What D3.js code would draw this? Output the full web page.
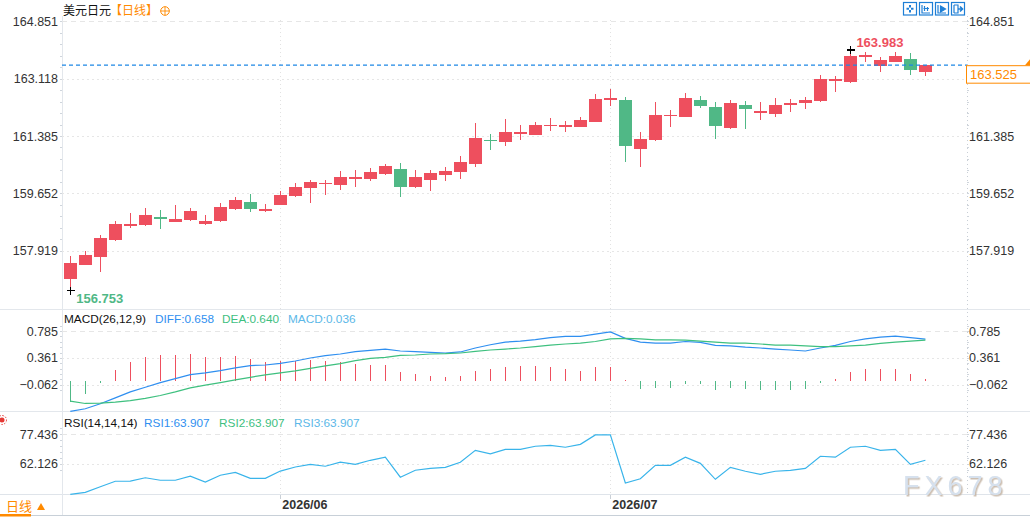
<!DOCTYPE html>
<html lang="zh">
<head>
<meta charset="UTF-8">
<title>美元日元 日线</title>
<script src="https://d3js.org/d3.v7.min.js"></script>
<style>
  body { margin: 0; background: #fff; }
  svg { display: block; font-family: "Liberation Sans", Arial, sans-serif; }
  .cn { font-family: "Noto Sans CJK SC", sans-serif; }
  .tick text { font-size: 12.5px; fill: #333; }
</style>
</head>
<body>
<svg width="1030" height="517"></svg>
<script>
// trading days shown on the chart
const days = [
  '2026/05/12','2026/05/13','2026/05/14','2026/05/15','2026/05/18','2026/05/19','2026/05/20','2026/05/21','2026/05/22',
  '2026/05/25','2026/05/26','2026/05/27','2026/05/28','2026/05/29',
  '2026/06/01','2026/06/02','2026/06/03','2026/06/04','2026/06/05','2026/06/08','2026/06/09','2026/06/10','2026/06/11',
  '2026/06/12','2026/06/15','2026/06/16','2026/06/17','2026/06/18','2026/06/19','2026/06/22','2026/06/23','2026/06/24',
  '2026/06/25','2026/06/26','2026/06/29','2026/06/30',
  '2026/07/01','2026/07/02','2026/07/03','2026/07/06','2026/07/07','2026/07/08','2026/07/09','2026/07/10','2026/07/13',
  '2026/07/14','2026/07/15','2026/07/16','2026/07/17','2026/07/20','2026/07/21','2026/07/22','2026/07/23','2026/07/24',
  '2026/07/27','2026/07/28','2026/07/29','2026/07/30'
];

const open = [157.05,157.50,157.74,158.25,158.66,158.71,158.95,158.80,158.84,158.72,158.81,159.19,159.39,159.13,
  159.31,159.56,159.80,159.95,159.89,160.10,160.10,160.24,160.40,159.83,160.07,160.22,160.31,160.55,161.27,161.19,
  161.46,161.42,161.70,161.67,161.67,161.81,162.46,162.48,160.98,161.25,162.00,161.97,162.48,162.27,161.64,162.33,
  162.11,162.06,162.33,162.37,162.43,163.06,163.03,163.78,163.51,163.62,163.71,163.33];
const high = [157.75,157.90,158.40,158.83,159.07,159.22,159.16,159.31,159.22,159.01,159.37,159.55,159.64,159.34,
  159.73,159.97,160.06,160.06,160.33,160.37,160.43,160.55,160.58,160.37,160.37,160.46,160.79,161.78,161.45,161.90,
  161.72,161.81,161.93,161.84,161.96,162.66,162.81,162.57,161.51,162.42,162.18,162.69,162.60,162.42,162.48,162.45,
  162.42,162.54,162.51,162.57,163.23,163.21,163.983,163.92,163.77,163.92,163.89,163.53];
const low = [156.753,157.48,157.27,158.22,158.59,158.66,158.56,158.78,158.83,158.71,158.80,159.16,159.10,159.08,
  159.29,159.55,159.37,159.59,159.74,159.83,160.04,160.21,159.53,159.82,159.71,160.04,160.09,160.46,160.97,161.07,
  161.27,161.41,161.54,161.51,161.66,161.80,162.30,160.61,160.46,161.22,161.67,161.96,162.24,161.28,161.61,161.61,
  161.87,161.97,162.12,162.21,162.42,162.70,163.00,163.62,163.32,163.61,163.24,163.21];
const close = [157.55,157.80,158.31,158.74,158.74,159.01,158.87,158.89,159.13,158.83,159.25,159.46,159.19,159.19,
  159.61,159.85,160.00,159.97,160.15,160.15,160.30,160.49,159.85,160.15,160.27,160.33,160.61,161.33,161.22,161.51,
  161.51,161.72,161.73,161.72,161.87,162.51,162.54,161.07,161.30,162.03,162.03,162.54,162.30,161.70,162.38,162.21,
  162.14,162.33,162.37,162.46,163.11,163.11,163.80,163.83,163.68,163.80,163.39,163.525];

const diff = [-0.481,-0.439,-0.361,-0.267,-0.173,-0.10,-0.027,0.036,0.099,0.125,0.161,0.204,0.24,0.25,0.276,0.313,
  0.36,0.397,0.423,0.459,0.48,0.50,0.47,0.459,0.448,0.439,0.455,0.517,0.569,
  0.61,0.627,0.65,0.68,0.70,0.70,0.736,0.77,0.67,0.61,0.595,0.595,0.62,0.605,0.56,0.55,0.53,0.517,0.50,0.486,
  0.47,0.517,0.56,0.62,0.66,0.69,0.705,0.68,0.658];
const dea = [-0.32,-0.356,-0.35,-0.335,-0.31,-0.277,-0.23,-0.173,-0.11,-0.068,-0.027,0.016,0.056,0.094,0.125,0.157,
  0.198,0.235,0.271,0.318,0.354,0.37,0.40,0.407,0.423,0.428,0.439,0.464,0.486,
  0.50,0.517,0.54,0.564,0.58,0.595,0.62,0.66,0.67,0.66,0.645,0.645,0.64,0.625,0.61,0.595,0.595,0.58,0.564,0.564,
  0.55,0.54,0.54,0.55,0.564,0.59,0.61,0.627,0.640];
const macd = [-0.34,-0.20,-0.03,0.17,0.29,0.376,0.41,0.41,0.42,0.376,0.376,0.39,0.345,0.30,0.31,0.31,0.33,0.31,
  0.30,0.266,0.25,0.25,0.14,0.11,0.078,0.063,0.078,0.157,0.19,
  0.22,0.235,0.235,0.22,0.19,0.157,0.22,0.22,0.016,-0.125,-0.11,-0.11,-0.05,-0.05,-0.14,-0.11,-0.125,-0.14,-0.14,
  -0.14,-0.125,-0.03,0.03,0.14,0.19,0.19,0.19,0.11,0.036];

const rsi = [46.2,47.2,50.1,53.0,53.1,54.8,53.5,53.5,55.6,52.6,56.1,57.6,54.5,54.5,58.3,60.4,61.8,60.8,62.9,61.8,
  63.9,65.5,55.1,58.7,59.7,60.2,62.9,69.1,67.3,
  69.6,69.6,71.2,71.7,70.7,72.2,77.1,77.1,52.1,54.3,61.3,61.3,65.5,62.3,54.0,60.2,58.2,56.6,58.2,58.7,59.7,
  66.0,65.5,70.7,71.2,69.1,69.6,61.8,63.907];

const priceTicks = [164.851, 163.118, 161.385, 159.652, 157.919];
const macdTicks = [0.785, 0.361, -0.062];
const rsiTicks = [77.436, 62.126];
const monthStarts = ['2026/06/01', '2026/07/01'];
const monthLabels = ['2026/06', '2026/07'];
const lastPrice = 163.525;
const maxPrice = 163.983, maxDay = '2026/07/23';
const minPrice = 156.753, minDay = '2026/05/12';

const RED = '#ee4f5e', GREEN = '#50b886', ORANGE = '#ff8a00';
const DIFF_C = '#2f8ff0', DEA_C = '#3ec07f', MACD_C = '#5cb8e8', RSI_C = '#39b4ea';

const svg = d3.select('svg');
const left = 62, right = 967;

const x = d3.scalePoint().domain(days).range([70.3, 925.4]);
const y = d3.scaleLinear().domain([157.919, 164.851]).range([250.7, 21.3]);
const yM = d3.scaleLinear().domain([-0.062, 0.785]).range([384.8, 331]);
const yR = d3.scaleLinear().domain([62.126, 77.436]).range([463.7, 434.3]);

const rows = days.map((d, i) => ({ day: d, o: open[i], h: high[i], l: low[i], c: close[i] }));
const yl = y(lastPrice);

// watermark shadow
const defs = svg.append('defs');
defs.append('filter').attr('id', 'wm').attr('x', '-5%').attr('y', '-10%').attr('width', '115%').attr('height', '130%')
  .append('feDropShadow').attr('dx', 1.5).attr('dy', 1.5).attr('stdDeviation', 0.4)
  .attr('flood-color', '#bfae9c').attr('flood-opacity', 0.8);

// frame lines
const frame = svg.append('g').attr('shape-rendering', 'crispEdges');
[309.5, 411.5].forEach(v => frame.append('line').attr('x1', 0).attr('x2', 1030).attr('y1', v).attr('y2', v).attr('stroke', '#e3e7ec'));
frame.append('line').attr('x1', 0).attr('x2', 1030).attr('y1', 494.5).attr('y2', 494.5).attr('stroke', '#dfe4ea');
frame.append('line').attr('x1', 0).attr('x2', 1030).attr('y1', 515.5).attr('y2', 515.5).attr('stroke', '#c8d0d8').attr('stroke-width', 1.5);
frame.append('line').attr('x1', left + 0.5).attr('x2', left + 0.5).attr('y1', 16).attr('y2', 515).attr('stroke', '#e3e7ec');
frame.append('line').attr('x1', right + 0.5).attr('x2', right + 0.5).attr('y1', 16).attr('y2', 494)
  .attr('stroke', '#c9cfd6').attr('stroke-dasharray', '1,3');

// month grid lines
monthStarts.forEach(m => {
  frame.append('line').attr('x1', Math.round(x(m)) + 0.5).attr('x2', Math.round(x(m)) + 0.5)
    .attr('y1', 20).attr('y2', 498).attr('stroke', '#e2e2e2').attr('stroke-dasharray', '1,3');
});

// horizontal grids + axes for each panel
function panelAxes(scale, ticks) {
  ticks.forEach((t, i) => {
    frame.append('line').attr('x1', left).attr('x2', right)
      .attr('y1', Math.round(scale(t)) + 0.5).attr('y2', Math.round(scale(t)) + 0.5)
      .attr('stroke', '#e6e6e6').attr('stroke-dasharray', i === 0 ? '5,4' : '2,3');
  });
  const fmt = d => d3.format('.3f')(d);
  const la = svg.append('g').attr('transform', `translate(${left},0)`)
    .call(d3.axisLeft(scale).tickValues(ticks).tickFormat(fmt).tickSize(0).tickPadding(4));
  la.select('.domain').remove();
  // the last-price box hides any right label it sits on
  const rightTicks = ticks.filter(t => Math.abs(scale(t) - (yl + 9)) > 14);
  const ra = svg.append('g').attr('transform', `translate(${right},0)`)
    .call(d3.axisRight(scale).tickValues(rightTicks).tickFormat(fmt).tickSize(0).tickPadding(2));
  ra.select('.domain').remove();
  // minor ticks
  const stepPx = Math.abs(scale(ticks[1]) - scale(ticks[0])) / 5;
  const [r0, r1] = scale.range();
  for (let p = scale(ticks[0]) - stepPx * 2; p < Math.max(r0, r1) + 8; p += stepPx) {
    if (p < Math.min(r0, r1) - 8) continue;
    frame.append('rect').attr('x', left - 2).attr('y', Math.round(p)).attr('width', 2).attr('height', 1).attr('fill', '#cfd5dc');
    frame.append('rect').attr('x', right).attr('y', Math.round(p)).attr('width', 2).attr('height', 1).attr('fill', '#cfd5dc');
  }
}
panelAxes(y, priceTicks);
panelAxes(yM, macdTicks);
panelAxes(yR, rsiTicks);

// candles
const bw = x.step() * 0.87;
const candles = svg.append('g').selectAll('g').data(rows).join('g')
  .attr('shape-rendering', 'crispEdges');
candles.append('line')
  .attr('x1', d => Math.round(x(d.day)) + 0.5).attr('x2', d => Math.round(x(d.day)) + 0.5)
  .attr('y1', d => y(d.h)).attr('y2', d => y(d.l))
  .attr('stroke', d => d.c >= d.o ? RED : GREEN);
candles.append('rect')
  .attr('x', d => Math.round(x(d.day)) + 0.5 - bw / 2)
  .attr('width', bw)
  .attr('y', d => y(Math.max(d.o, d.c)))
  .attr('height', d => Math.max(1.5, Math.abs(y(d.o) - y(d.c))))
  .attr('fill', d => d.c >= d.o ? RED : GREEN);

// last price line and box
svg.append('line').attr('x1', left).attr('x2', right).attr('y1', yl).attr('y2', yl)
  .attr('stroke', '#1e88e5').attr('stroke-width', 1.2).attr('stroke-dasharray', '4,3');
svg.append('rect').attr('x', 966.5).attr('y', yl + 0.5).attr('width', 70).attr('height', 17.5)
  .attr('fill', '#fff').attr('stroke', ORANGE);
svg.append('text').attr('x', 970).attr('y', yl + 13.5).attr('font-size', 13).attr('fill', ORANGE)
  .text(d3.format('.3f')(lastPrice));
svg.append('path').attr('d', `M1025,${yl}L1030,${yl - 6}L1030,${yl}Z`).attr('fill', ORANGE);

// max / min markers
function cross(cx, cy) {
  svg.append('path').attr('d', `M${cx - 4},${cy}H${cx + 4}M${cx},${cy - 4}V${cy + 4}`)
    .attr('stroke', '#000').attr('stroke-width', 1.2).attr('shape-rendering', 'crispEdges');
}
cross(Math.round(x(maxDay)) + 0.5, y(maxPrice));
svg.append('text').attr('x', x(maxDay) + 6).attr('y', y(maxPrice) - 3).attr('font-size', 13)
  .attr('font-weight', 'bold').attr('fill', RED).text(d3.format('.3f')(maxPrice));
cross(Math.round(x(minDay)) + 0.5, y(minPrice) + 1.5);
svg.append('text').attr('x', x(minDay) + 6).attr('y', y(minPrice) + 14).attr('font-size', 13)
  .attr('font-weight', 'bold').attr('fill', GREEN).text(d3.format('.3f')(minPrice));

// MACD panel
const zero = yM(0);
svg.append('g').attr('shape-rendering', 'crispEdges').selectAll('line').data(days).join('line')
  .attr('x1', d => Math.round(x(d)) + 0.5).attr('x2', d => Math.round(x(d)) + 0.5)
  .attr('y1', zero).attr('y2', (d, i) => yM(macd[i]))
  .attr('stroke', (d, i) => macd[i] >= 0 ? RED : GREEN).attr('stroke-width', 1.2);
svg.append('path').datum(days)
  .attr('d', d3.line().x(d => x(d)).y((d, i) => yM(diff[i])))
  .attr('fill', 'none').attr('stroke', DIFF_C).attr('stroke-width', 1.2);
svg.append('path').datum(days)
  .attr('d', d3.line().x(d => x(d)).y((d, i) => yM(dea[i])))
  .attr('fill', 'none').attr('stroke', DEA_C).attr('stroke-width', 1.2);

// RSI panel
svg.append('path').datum(days)
  .attr('d', d3.line().x(d => x(d)).y((d, i) => yR(rsi[i])))
  .attr('fill', 'none').attr('stroke', RSI_C).attr('stroke-width', 1.2);

// headers
const f3 = d3.format('.3f');
const mh = svg.append('text').attr('x', 64).attr('y', 323).attr('font-size', 11.8);
mh.append('tspan').attr('fill', '#111').text('MACD(26,12,9)');
mh.append('tspan').attr('x', 155).attr('fill', DIFF_C).text('DIFF:' + f3(diff[diff.length - 1]));
mh.append('tspan').attr('x', 222).attr('fill', DEA_C).text('DEA:' + f3(dea[dea.length - 1]));
mh.append('tspan').attr('x', 288).attr('fill', MACD_C).text('MACD:' + f3(macd[macd.length - 1]));

const rh = svg.append('text').attr('x', 64).attr('y', 427).attr('font-size', 11.8);
rh.append('tspan').attr('fill', '#111').text('RSI(14,14,14)');
rh.append('tspan').attr('x', 144).attr('fill', DIFF_C).text('RSI1:' + f3(rsi[rsi.length - 1]));
rh.append('tspan').attr('x', 219).attr('fill', DEA_C).text('RSI2:' + f3(rsi[rsi.length - 1]));
rh.append('tspan').attr('x', 294).attr('fill', MACD_C).text('RSI3:' + f3(rsi[rsi.length - 1]));

// little red marker at the left of the RSI panel
svg.append('circle').attr('cx', 2).attr('cy', 420).attr('r', 2.5).attr('fill', '#e53935');
svg.append('circle').attr('cx', 2).attr('cy', 420).attr('r', 4.5).attr('fill', 'none')
  .attr('stroke', '#e53935').attr('stroke-dasharray', '1.5,1.5');

// title
const title = svg.append('text').attr('class', 'cn').attr('x', 63).attr('y', 15).attr('font-size', 12);
title.append('tspan').attr('fill', '#111').text('美元日元');
title.append('tspan').attr('x', 110).attr('fill', ORANGE).text('【日线】');
svg.append('circle').attr('cx', 165).attr('cy', 11).attr('r', 4.3).attr('fill', 'none').attr('stroke', ORANGE);
svg.append('path').attr('d', 'M160.7,11H169.3M165,6.7V15.3').attr('stroke', ORANGE).attr('stroke-width', 0.9);

// toolbar icons
const icons = svg.append('g').attr('stroke', '#1e7fd6').attr('fill', 'none').attr('stroke-width', 1.2);
[903, 919, 935, 951].forEach((ix, k) => {
  const g = icons.append('g').attr('transform', `translate(${ix},2)`);
  g.append('rect').attr('x', 0.5).attr('y', 0.5).attr('width', 13).attr('height', 12.5).attr('fill', '#fff');
  if (k === 0) {
    g.append('path').attr('d', 'M7,3V5.5M7,8V10.5M3.5,6.8H6M8,6.8H10.5').attr('stroke-width', 2);
  } else if (k === 1) {
    g.append('path').attr('d', 'M3,3V11H11M5.5,4V9M8.5,5V9M4.5,6.5H10');
  } else if (k === 2) {
    g.append('path').attr('d', 'M3,3V11H11');
    g.append('path').attr('d', 'M5.5,4L10.5,7L5.5,10Z').attr('fill', '#1e7fd6');
  } else {
    g.append('path').attr('d', 'M3,3V11M3,3H7V11H3');
    g.append('path').attr('d', 'M7,7H11M9,4.5L11.5,7L9,9.5').attr('stroke-width', 1.6);
  }
});

// x axis labels
monthStarts.forEach((m, i) => {
  frame.append('line').attr('x1', Math.round(x(m)) + 0.5).attr('x2', Math.round(x(m)) + 0.5)
    .attr('y1', 495).attr('y2', 499).attr('stroke', '#c9cfd6');
  svg.append('text').attr('x', x(m) + 2).attr('y', 508.5).attr('font-size', 12.5).attr('font-weight', 'bold')
    .attr('fill', '#333').text(monthLabels[i]);
});

// bottom-left period switch
svg.append('text').attr('class', 'cn').attr('x', 6).attr('y', 511).attr('font-size', 13).attr('fill', ORANGE).text('日线');
svg.append('path').attr('d', 'M37,510L41,503L45,510Z').attr('fill', ORANGE);
svg.append('rect').attr('x', 0).attr('y', 514).attr('width', 31).attr('height', 2.5).attr('fill', ORANGE);

// watermark
svg.append('text').attr('x', 903).attr('y', 494.5).attr('font-size', 27).attr('letter-spacing', 5)
  .attr('fill', '#d6e1ee').attr('filter', 'url(#wm)').text('FX678');
</script>
</body>
</html>
